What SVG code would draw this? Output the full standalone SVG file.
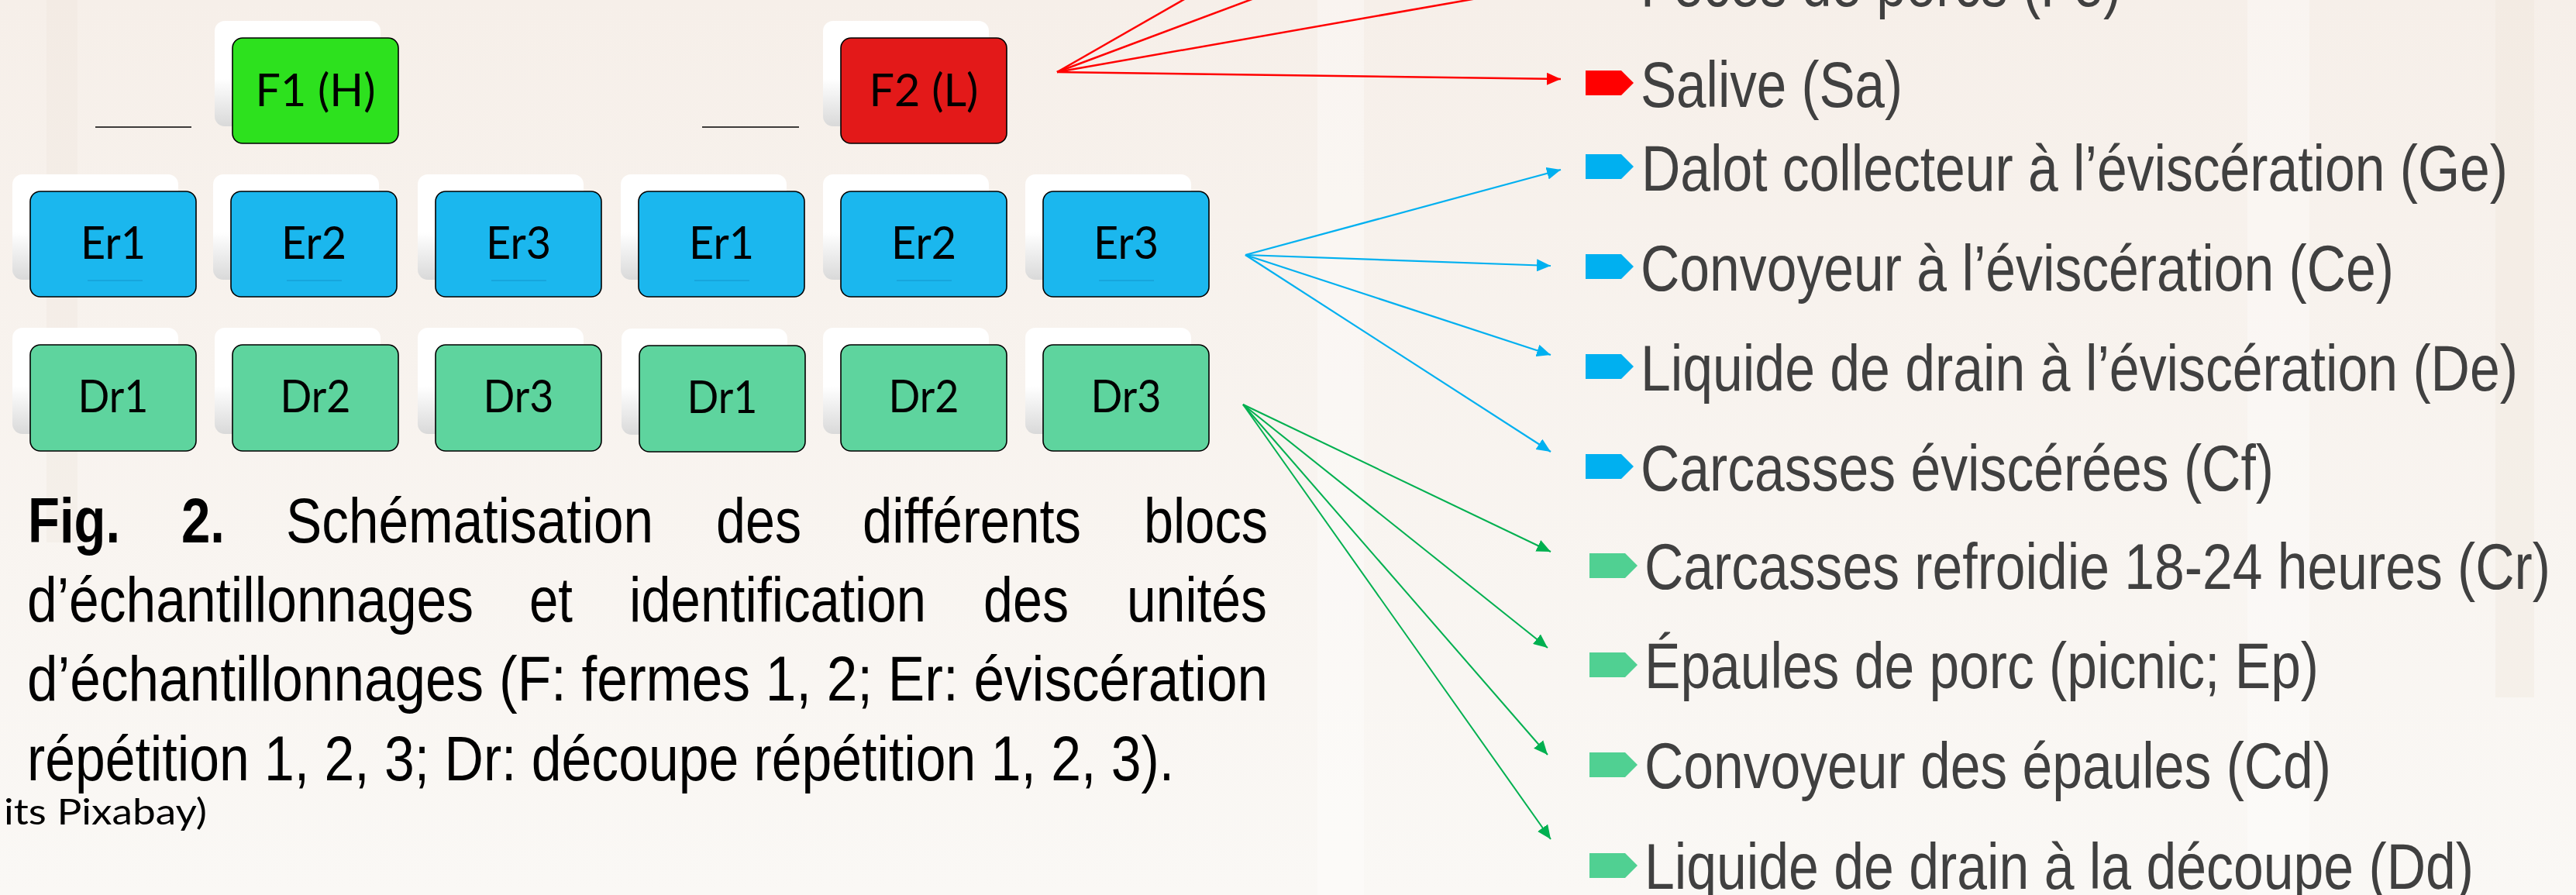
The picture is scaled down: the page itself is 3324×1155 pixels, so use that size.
<svg xmlns="http://www.w3.org/2000/svg" width="3324" height="1155" viewBox="0 0 3324 1155">
<style>
.box{stroke:#000;stroke-width:1.6}
.f1{fill:#2DE11E}.f2{fill:#E31919}.er{fill:#1BB7EE}.dr{fill:#5ED49E}
.sh{fill:url(#shg)}
.bt{font-family:Lato,"Open Sans",sans-serif;font-size:58px;fill:#000;text-anchor:middle}
.cap{font-family:"Liberation Sans",Arial,sans-serif;font-size:81px;fill:#000}
.li{font-family:"Liberation Sans",Arial,sans-serif;font-size:84px;fill:#404040}
.red{stroke:#FF0000;stroke-width:2.5;fill:none;marker-end:url(#ar)}
.blu{stroke:#00B0F0;stroke-width:2.2;fill:none;marker-end:url(#ab)}
.grn{stroke:#00B050;stroke-width:2;fill:none;marker-end:url(#ag)}
.ul{stroke:#1596CC;stroke-width:1.2}
</style>
<defs>
<linearGradient id="bg" x1="0" y1="0" x2="0" y2="1">
<stop offset="0" stop-color="#F6EFE9"/><stop offset="1" stop-color="#FAF8F5"/>
</linearGradient>
<linearGradient id="shg" x1="0" y1="0" x2="0" y2="1">
<stop offset="0" stop-color="#FFFFFF"/><stop offset="0.55" stop-color="#FFFFFF"/><stop offset="1" stop-color="#D9D9D9"/>
</linearGradient>
<marker id="ar" markerUnits="userSpaceOnUse" markerWidth="18" markerHeight="16" refX="18" refY="8" orient="auto"><path d="M0,0 L18,8 L0,16 Z" fill="#FF0000"/></marker>
<marker id="ab" markerUnits="userSpaceOnUse" markerWidth="18" markerHeight="16" refX="18" refY="8" orient="auto"><path d="M0,0 L18,8 L0,16 Z" fill="#00B0F0"/></marker>
<marker id="ag" markerUnits="userSpaceOnUse" markerWidth="18" markerHeight="16" refX="18" refY="8" orient="auto"><path d="M0,0 L18,8 L0,16 Z" fill="#00B050"/></marker>
<path id="bul" d="M0,-16 H46 L62,0 L46,16 H0 Z"/>
</defs>
<rect x="0" y="0" width="3324" height="1155" fill="url(#bg)"/>
<g opacity="0.35">
<rect x="60" y="0" width="40" height="700" fill="#EFE6DD"/>
<rect x="1700" y="0" width="60" height="1155" fill="#FFFFFF"/>
<rect x="2900" y="0" width="80" height="1155" fill="#FFFFFF"/>
<rect x="3220" y="0" width="50" height="900" fill="#EFE4DA"/>
</g>

<g id="lines-top">
<line x1="123" y1="164" x2="247" y2="164" stroke="#000" stroke-width="1.6"/>
<line x1="906" y1="164" x2="1031" y2="164" stroke="#000" stroke-width="1.6"/>
</g>

<g id="node-F1">
<rect class="sh" x="277" y="27" width="214" height="136" rx="13"/>
<rect class="box f1" x="300" y="49" width="214" height="136" rx="13"/>
<text class="bt" x="407" y="137" textLength="155" lengthAdjust="spacingAndGlyphs">F1 (H)</text>
</g>
<g id="node-F2">
<rect class="sh" x="1062" y="27" width="214" height="136" rx="13"/>
<rect class="box f2" x="1085" y="49" width="214" height="136" rx="13"/>
<text class="bt" x="1192" y="137" textLength="141" lengthAdjust="spacingAndGlyphs">F2 (L)</text>
</g>

<g id="node-Er1a">
<rect class="sh" x="16" y="225" width="214" height="136" rx="13"/>
<rect class="box er" x="39" y="247" width="214" height="136" rx="13"/>
<line class="ul" x1="113" y1="362" x2="184" y2="362"/>
<text class="bt" x="146" y="334" textLength="84" lengthAdjust="spacingAndGlyphs">Er1</text>
</g>
<g id="node-Er2a">
<rect class="sh" x="275" y="225" width="214" height="136" rx="13"/>
<rect class="box er" x="298" y="247" width="214" height="136" rx="13"/>
<line class="ul" x1="370" y1="362" x2="441" y2="362"/>
<text class="bt" x="405" y="334" textLength="84" lengthAdjust="spacingAndGlyphs">Er2</text>
</g>
<g id="node-Er3a">
<rect class="sh" x="539" y="225" width="214" height="136" rx="13"/>
<rect class="box er" x="562" y="247" width="214" height="136" rx="13"/>
<line class="ul" x1="634" y1="362" x2="705" y2="362"/>
<text class="bt" x="669" y="334" textLength="84" lengthAdjust="spacingAndGlyphs">Er3</text>
</g>
<g id="node-Er1b">
<rect class="sh" x="801" y="225" width="214" height="136" rx="13"/>
<rect class="box er" x="824" y="247" width="214" height="136" rx="13"/>
<line class="ul" x1="896" y1="362" x2="967" y2="362"/>
<text class="bt" x="931" y="334" textLength="84" lengthAdjust="spacingAndGlyphs">Er1</text>
</g>
<g id="node-Er2b">
<rect class="sh" x="1062" y="225" width="214" height="136" rx="13"/>
<rect class="box er" x="1085" y="247" width="214" height="136" rx="13"/>
<line class="ul" x1="1157" y1="362" x2="1228" y2="362"/>
<text class="bt" x="1192" y="334" textLength="84" lengthAdjust="spacingAndGlyphs">Er2</text>
</g>
<g id="node-Er3b">
<rect class="sh" x="1323" y="225" width="214" height="136" rx="13"/>
<rect class="box er" x="1346" y="247" width="214" height="136" rx="13"/>
<line class="ul" x1="1418" y1="362" x2="1489" y2="362"/>
<text class="bt" x="1453" y="334" textLength="84" lengthAdjust="spacingAndGlyphs">Er3</text>
</g>

<g id="node-Dr1a">
<rect class="sh" x="16" y="423" width="214" height="137" rx="13"/>
<rect class="box dr" x="39" y="445" width="214" height="137" rx="13"/>
<text class="bt" x="146" y="532" textLength="91" lengthAdjust="spacingAndGlyphs">Dr1</text>
</g>
<g id="node-Dr2a">
<rect class="sh" x="277" y="423" width="214" height="137" rx="13"/>
<rect class="box dr" x="300" y="445" width="214" height="137" rx="13"/>
<text class="bt" x="407" y="532" textLength="91" lengthAdjust="spacingAndGlyphs">Dr2</text>
</g>
<g id="node-Dr3a">
<rect class="sh" x="539" y="423" width="214" height="137" rx="13"/>
<rect class="box dr" x="562" y="445" width="214" height="137" rx="13"/>
<text class="bt" x="669" y="532" textLength="91" lengthAdjust="spacingAndGlyphs">Dr3</text>
</g>
<g id="node-Dr1b">
<rect class="sh" x="802" y="424" width="214" height="137" rx="13"/>
<rect class="box dr" x="825" y="446" width="214" height="137" rx="13"/>
<text class="bt" x="932" y="533" textLength="91" lengthAdjust="spacingAndGlyphs">Dr1</text>
</g>
<g id="node-Dr2b">
<rect class="sh" x="1062" y="423" width="214" height="137" rx="13"/>
<rect class="box dr" x="1085" y="445" width="214" height="137" rx="13"/>
<text class="bt" x="1192" y="532" textLength="91" lengthAdjust="spacingAndGlyphs">Dr2</text>
</g>
<g id="node-Dr3b">
<rect class="sh" x="1323" y="423" width="214" height="137" rx="13"/>
<rect class="box dr" x="1346" y="445" width="214" height="137" rx="13"/>
<text class="bt" x="1453" y="532" textLength="91" lengthAdjust="spacingAndGlyphs">Dr3</text>
</g>

<g id="connectors">
<line class="red" x1="1364" y1="93" x2="2014" y2="-279"/>
<line class="red" x1="1364" y1="93" x2="2014" y2="-150"/>
<line class="red" x1="1364" y1="93" x2="2014" y2="-21"/>
<line class="red" x1="1364" y1="93" x2="2014" y2="102"/>
<line class="blu" x1="1607" y1="329" x2="2014" y2="219"/>
<line class="blu" x1="1607" y1="329" x2="2001" y2="343"/>
<line class="blu" x1="1607" y1="329" x2="2001" y2="458"/>
<line class="blu" x1="1607" y1="329" x2="2001" y2="583"/>
<line class="grn" x1="1604" y1="522" x2="2001" y2="712"/>
<line class="grn" x1="1604" y1="522" x2="1997" y2="836"/>
<line class="grn" x1="1604" y1="522" x2="1997" y2="974"/>
<line class="grn" x1="1604" y1="522" x2="2001" y2="1083"/>
</g>

<g id="list">
<use href="#bul" x="2046" y="-21" fill="#FF0000"/>
<text class="li" x="2117" y="8" textLength="620" lengthAdjust="spacingAndGlyphs">Fèces de porcs (Fe)</text>
<use href="#bul" x="2046" y="107" fill="#FF0000"/>
<text class="li" x="2117" y="138" textLength="338" lengthAdjust="spacingAndGlyphs">Salive (Sa)</text>
<use href="#bul" x="2046" y="215" fill="#00B0F0"/>
<text class="li" x="2118" y="246" textLength="1118" lengthAdjust="spacingAndGlyphs">Dalot collecteur à l’éviscération (Ge)</text>
<use href="#bul" x="2046" y="344" fill="#00B0F0"/>
<text class="li" x="2117" y="375" textLength="972" lengthAdjust="spacingAndGlyphs">Convoyeur à l’éviscération (Ce)</text>
<use href="#bul" x="2046" y="473" fill="#00B0F0"/>
<text class="li" x="2117" y="504" textLength="1132" lengthAdjust="spacingAndGlyphs">Liquide de drain à l’éviscération (De)</text>
<use href="#bul" x="2046" y="602" fill="#00B0F0"/>
<text class="li" x="2117" y="633" textLength="817" lengthAdjust="spacingAndGlyphs">Carcasses éviscérées (Cf)</text>
<use href="#bul" x="2051" y="730" fill="#50D092"/>
<text class="li" x="2122" y="760" textLength="1169" lengthAdjust="spacingAndGlyphs">Carcasses refroidie 18-24 heures (Cr)</text>
<use href="#bul" x="2051" y="858" fill="#50D092"/>
<text class="li" x="2122" y="888" textLength="870" lengthAdjust="spacingAndGlyphs">Épaules de porc (picnic; Ep)</text>
<use href="#bul" x="2051" y="987" fill="#50D092"/>
<text class="li" x="2122" y="1017" textLength="886" lengthAdjust="spacingAndGlyphs">Convoyeur des épaules (Cd)</text>
<use href="#bul" x="2051" y="1117" fill="#50D092"/>
<text class="li" x="2122" y="1147" textLength="1070" lengthAdjust="spacingAndGlyphs">Liquide de drain à la découpe (Dd)</text>
</g>

<g id="caption">
<text class="cap" x="36" y="700" font-weight="bold" textLength="119" lengthAdjust="spacingAndGlyphs">Fig.</text>
<text class="cap" x="234" y="700" font-weight="bold" textLength="56" lengthAdjust="spacingAndGlyphs">2.</text>
<text class="cap" x="369" y="700" textLength="474" lengthAdjust="spacingAndGlyphs">Schématisation</text>
<text class="cap" x="924" y="700" textLength="110" lengthAdjust="spacingAndGlyphs">des</text>
<text class="cap" x="1113" y="700" textLength="282" lengthAdjust="spacingAndGlyphs">différents</text>
<text class="cap" x="1476" y="700" textLength="160" lengthAdjust="spacingAndGlyphs">blocs</text>
<text class="cap" x="35" y="802" textLength="576" lengthAdjust="spacingAndGlyphs">d’échantillonnages</text>
<text class="cap" x="683" y="802" textLength="56" lengthAdjust="spacingAndGlyphs">et</text>
<text class="cap" x="812" y="802" textLength="383" lengthAdjust="spacingAndGlyphs">identification</text>
<text class="cap" x="1269" y="802" textLength="110" lengthAdjust="spacingAndGlyphs">des</text>
<text class="cap" x="1454" y="802" textLength="181" lengthAdjust="spacingAndGlyphs">unités</text>
<text class="cap" x="35" y="904" textLength="1601" lengthAdjust="spacingAndGlyphs">d’échantillonnages (F: fermes 1, 2; Er: éviscération</text>
<text class="cap" x="35" y="1007" textLength="1480" lengthAdjust="spacingAndGlyphs">répétition 1, 2, 3; Dr: découpe répétition 1, 2, 3).</text>
</g>

<text x="5" y="1064" font-family="Lato,'Open Sans',sans-serif" font-size="46" fill="#000" textLength="262" lengthAdjust="spacingAndGlyphs">its Pixabay)</text>
</svg>
